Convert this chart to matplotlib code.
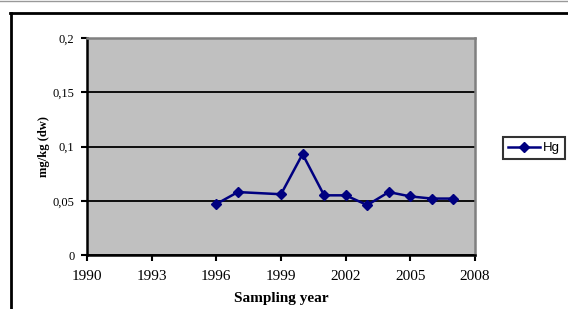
import matplotlib.pyplot as plt
from matplotlib.lines import Line2D
from matplotlib.ticker import FuncFormatter

years = [1996, 1997, 1999, 2000, 2001, 2002, 2003, 2004, 2005, 2006, 2007]
hg = [0.047, 0.058, 0.056, 0.093, 0.055, 0.055, 0.046, 0.058, 0.054, 0.052, 0.052]
x_ticks = [1990, 1993, 1996, 1999, 2002, 2005, 2008]
y_ticks = [0, 0.05, 0.1, 0.15, 0.2]

serif = 'Liberation Serif'
navy = '#000080'

fig = plt.figure(figsize=(5.68, 3.09), dpi=100)
ax = fig.add_axes([87 / 568, 1 - 255 / 309, 388 / 568, 217 / 309])
ax.set_facecolor('#c0c0c0')

ax.plot(years, hg, color=navy, lw=1.8, marker='D', ms=5, label='Hg', zorder=3)

ax.set_xlim(1990, 2008)
ax.set_ylim(0, 0.2)
ax.set_xticks(x_ticks)
ax.set_yticks(y_ticks)
ax.yaxis.set_major_formatter(FuncFormatter(lambda v, p: ('%g' % v).replace('.', ',')))
for lab in ax.get_xticklabels():
    lab.set_fontfamily(serif)
    lab.set_fontsize(11)
for lab in ax.get_yticklabels():
    lab.set_fontfamily(serif)
    lab.set_fontsize(9)
ax.tick_params(axis='x', direction='out', length=4, width=1.5, pad=7)
ax.tick_params(axis='y', direction='out', length=4, width=1.5, pad=5)

ax.grid(axis='y', color='black', lw=1.3)
ax.set_axisbelow(True)

for side in ['left', 'bottom']:
    ax.spines[side].set_color('black')
    ax.spines[side].set_linewidth(1.8)
for side in ['top', 'right']:
    ax.spines[side].set_color('#808080')
    ax.spines[side].set_linewidth(1.8)

ax.set_xlabel('Sampling year', fontfamily=serif, fontweight='bold', fontsize=11, labelpad=6)
ax.set_ylabel('mg/kg (dw)', fontfamily=serif, fontweight='bold', fontsize=9, labelpad=2)

leg = fig.legend(loc='center left', bbox_to_anchor=(503 / 568, 1 - 148 / 309),
                 prop={'family': 'Liberation Sans', 'size': 9.5}, fancybox=False,
                 handlelength=2.4, borderpad=0.4, handletextpad=0.2,
                 borderaxespad=0)
leg.get_frame().set_edgecolor('black')
leg.get_frame().set_linewidth(1.5)

# outer chart frame
fig.add_artist(Line2D([0, 1], [1 - 0.5 / 309, 1 - 0.5 / 309], color='#999999', lw=1))
fig.add_artist(Line2D([10 / 568, 1], [1 - 12.5 / 309, 1 - 12.5 / 309], color='black', lw=2))
fig.add_artist(Line2D([10.5 / 568, 10.5 / 568], [0, 1 - 12.5 / 309], color='black', lw=2))

fig.savefig('out.png', dpi=100)
